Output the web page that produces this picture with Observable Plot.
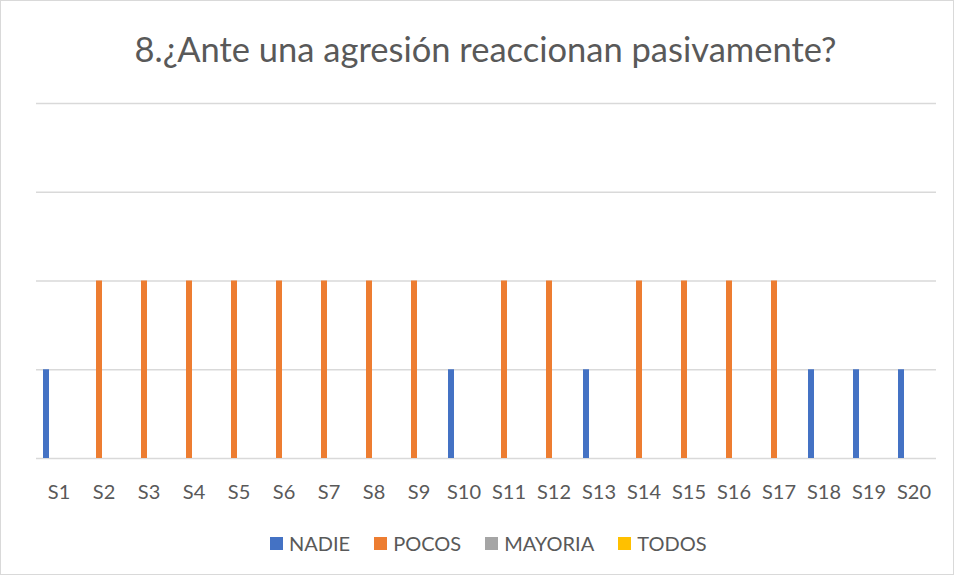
<!DOCTYPE html>
<html>
<head>
<meta charset="utf-8">
<script src="https://cdn.jsdelivr.net/npm/d3@7"></script>
<script src="https://cdn.jsdelivr.net/npm/@observablehq/plot@0.6"></script>
<style>
  html, body { margin: 0; padding: 0; background: #fff; }
  #chart {
    position: relative; width: 952px; height: 573px;
    border: 1px solid #d9d9d9; background: #fff; overflow: hidden;
    font-family: Lato, "Liberation Sans", sans-serif; color: #595959;
  }
  #title {
    position: absolute; left: 17px; right: 0; top: 28px;
    text-align: center; font-size: 34.5px; line-height: 40px; color: #595959;
  }
  #plot { position: absolute; left: 0; top: 80px; }
  #legend {
    position: absolute; left: 269px; top: 530px; display: flex; align-items: center;
    font-size: 20px; line-height: 24px; color: #595959;
  }
  #legend .item { display: flex; align-items: center; margin-right: 24px; }
  #legend .sw { width: 13px; height: 13px; margin-right: 6px; }
</style>
</head>
<body>
<div id="chart">
  <div id="title">8.¿Ante una agresión reaccionan pasivamente?</div>
  <div id="plot"></div>
  <div id="legend"></div>
</div>
<script>
const categories = ["S1","S2","S3","S4","S5","S6","S7","S8","S9","S10","S11","S12","S13","S14","S15","S16","S17","S18","S19","S20"];
const seriesNames = ["NADIE","POCOS","MAYORIA","TODOS"];
const seriesColors = ["#4472C4","#ED7D31","#A5A5A5","#FFC000"];
const nadie   = [1,0,0,0,0,0,0,0,0,1,0,0,1,0,0,0,0,1,1,1];
const pocos   = [0,2,2,2,2,2,2,2,2,0,2,2,0,2,2,2,2,0,0,0];
const mayoria = [0,0,0,0,0,0,0,0,0,0,0,0,0,0,0,0,0,0,0,0];
const todos   = [0,0,0,0,0,0,0,0,0,0,0,0,0,0,0,0,0,0,0,0];
const yTicks = [0,1,2,3,4];

const seriesValues = [nadie, pocos, mayoria, todos];
const rows = [];
categories.forEach((c, i) => {
  seriesNames.forEach((s, j) => rows.push({cat: c, series: s, value: seriesValues[j][i]}));
});

const plot = Plot.plot({
  width: 952,
  height: 422,
  marginLeft: 34,
  marginRight: 17,
  marginTop: 22,
  marginBottom: 45,
  style: {fontFamily: "Lato, 'Liberation Sans', sans-serif", color: "#595959", background: "transparent"},
  fx: {domain: categories, paddingInner: 0, paddingOuter: 0, label: null},
  x: {domain: seriesNames, paddingInner: 0.2, paddingOuter: 0.8, axis: null},
  y: {domain: [0, 4], axis: null},
  color: {domain: seriesNames, range: seriesColors},
  marks: [
    Plot.ruleY(yTicks, {stroke: "#d9d9d9", strokeWidth: 1.3}),
    Plot.barY(rows, {fx: "cat", x: "series", y: "value", fill: "series"}),
    Plot.axisFx({anchor: "bottom", tickSize: 0, tickPadding: 26, fontSize: 20, label: null})
  ]
});
document.getElementById("plot").appendChild(plot);

const legend = document.getElementById("legend");
seriesNames.forEach((s, i) => {
  const item = document.createElement("div");
  item.className = "item";
  const sw = document.createElement("div");
  sw.className = "sw";
  sw.style.background = seriesColors[i];
  const t = document.createElement("span");
  t.textContent = s;
  item.appendChild(sw); item.appendChild(t);
  legend.appendChild(item);
});
</script>
</body>
</html>
